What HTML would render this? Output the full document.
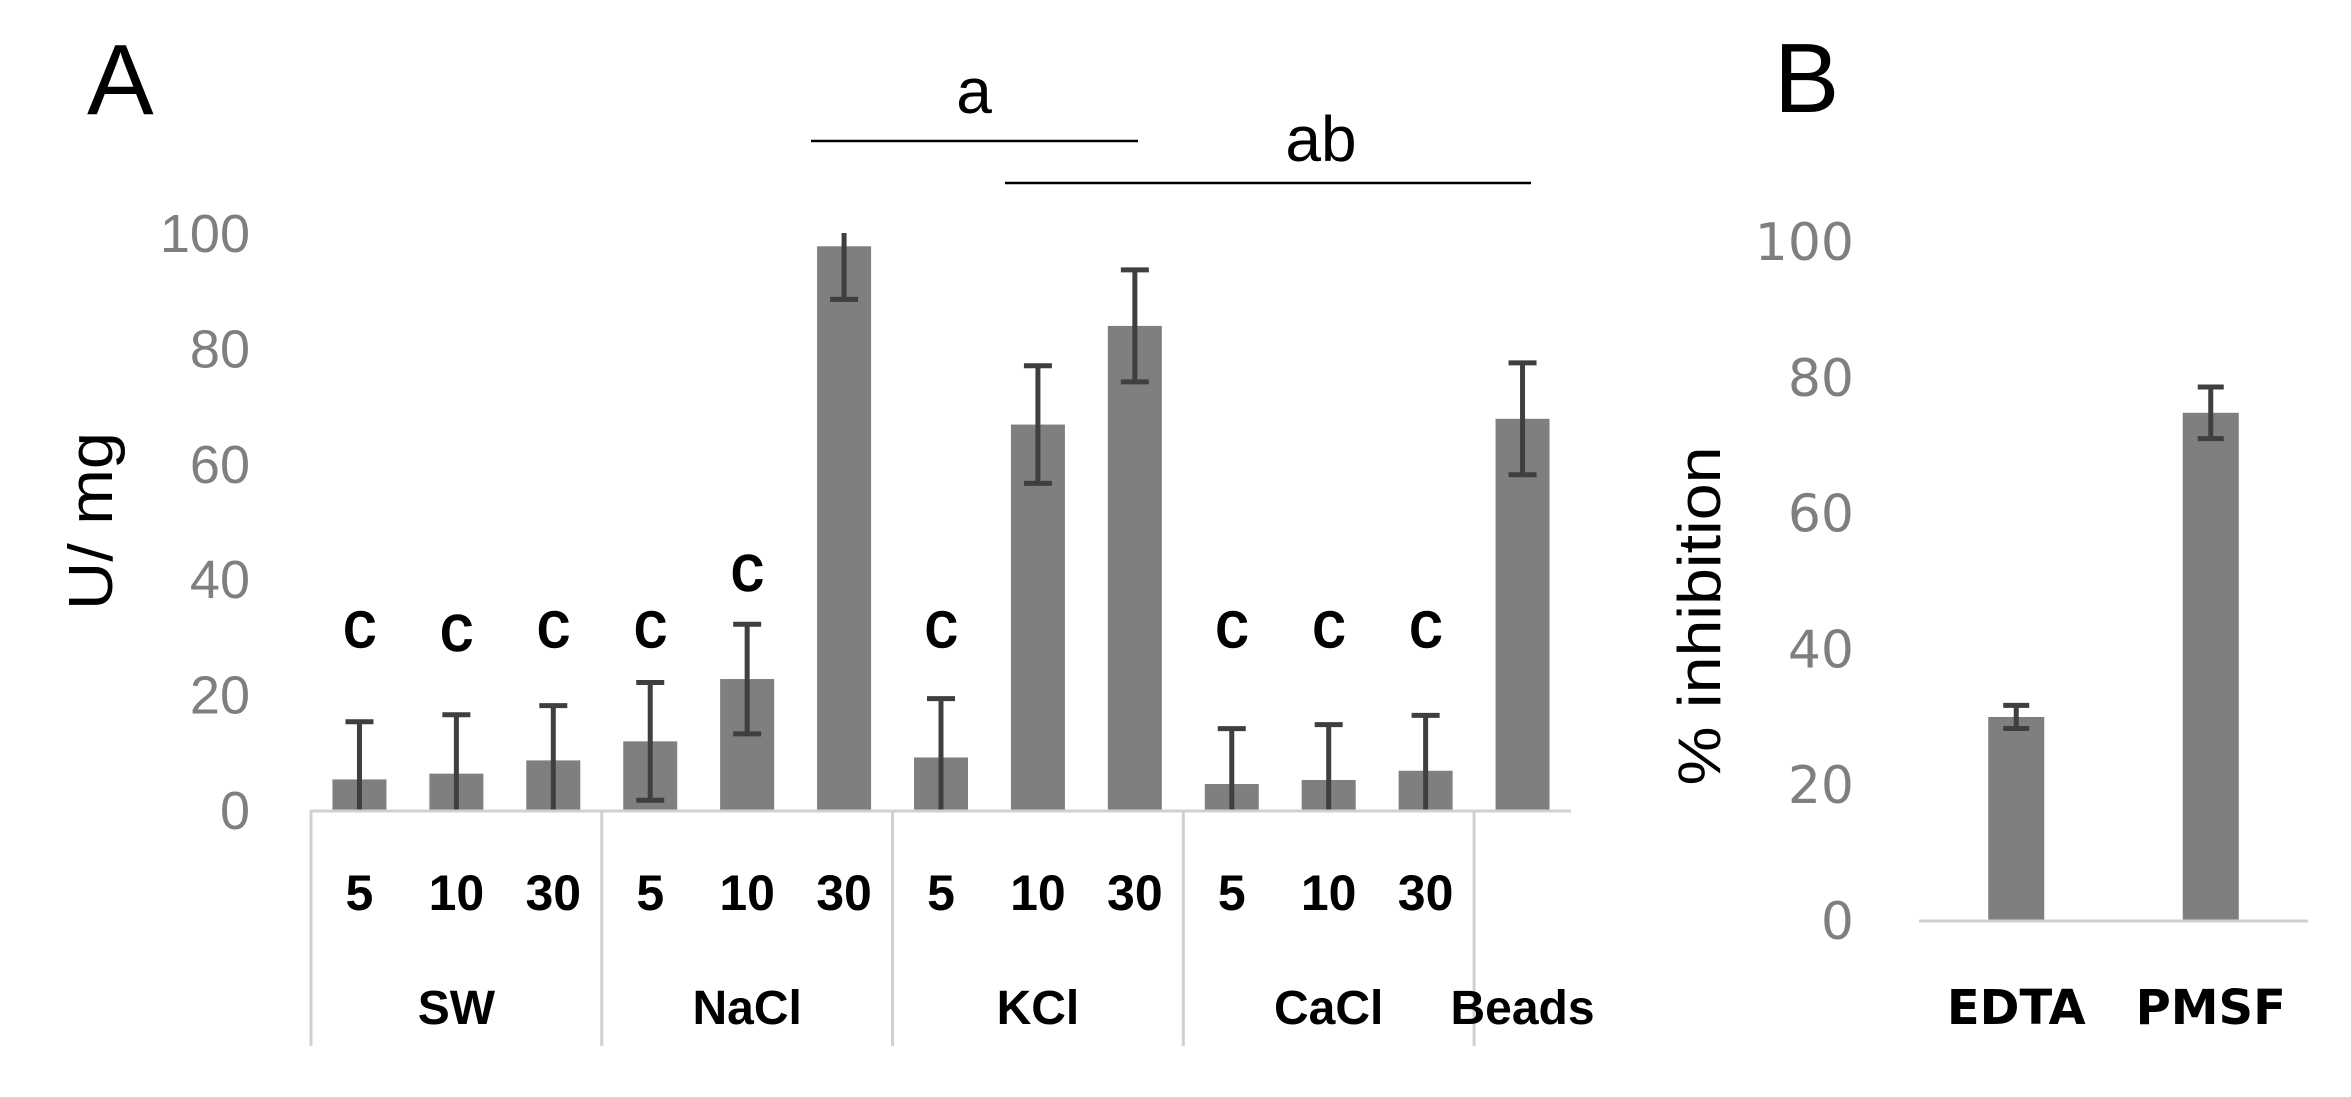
<!DOCTYPE html>
<html><head><meta charset="utf-8"><style>
html,body{margin:0;padding:0;background:#fff;}
svg{display:block;}
</style></head><body>
<svg width="2351" height="1097" viewBox="0 0 2351 1097" xmlns="http://www.w3.org/2000/svg">
<g id="panelA"></g>
<g id="panelB"></g>
</svg>
<script>
// Panel A data
const catsA = ["5","10","30","5","10","30","5","10","30","5","10","30",""];
const groupsA = ["SW","NaCl","KCl","CaCl","Beads"];
const groupSizesA = [3,3,3,3,1];
const valuesA = [5.3,6.3,8.6,11.9,22.7,97.7,9.1,66.8,83.9,4.5,5.2,6.8,67.8];
const errorsA = [10,10.2,9.5,10.2,9.5,9.2,10.2,10.2,9.7,9.6,9.6,9.6,9.7];
const sigA = ["c","c","c","c","c","","c","","","c","c","c",""];
const sigYA = [31.2,30.6,31.2,31.2,41,0,31.2,0,0,31.2,31.2,31.2,0];
const ticksA = [0,20,40,60,80,100];
// Panel B data
const catsB = ["EDTA","PMSF"];
const valuesB = [29.9,74.7];
const errorsB = [1.7,3.8];
const ticksB = [0,20,40,60,80,100];

const NS="http://www.w3.org/2000/svg";
function mk(parent,tag,attrs,text){const e=document.createElementNS(NS,tag);for(const k in attrs)e.setAttribute(k,attrs[k]);if(text!==undefined)e.textContent=text;parent.appendChild(e);return e;}

// ---------- Panel A ----------
const A=document.getElementById('panelA');
const ax0=311, ax1=1571, ay0=810, ayPer=5.77;
const slotA=(ax1-ax0)/catsA.length;
const yA=v=>ay0-v*ayPer;
const xA=i=>ax0+slotA*(i+0.5);

let t=mk(A,'text',{x:87,y:114,'font-family':'Liberation Sans, sans-serif','font-size':100,fill:'#000'},'A');



ticksA.forEach(v=>{
  const e=mk(A,'text',{x:250,y:yA(v)+19,'text-anchor':'end','font-family':'Liberation Sans, sans-serif','font-size':54,fill:'#7f7f7f'},String(v));
  
  
});
t=mk(A,'text',{x:0,y:0,transform:'translate(112,521) rotate(-90)','text-anchor':'middle','font-family':'Liberation Sans, sans-serif','font-size':62,fill:'#000',textLength:178,lengthAdjust:'spacingAndGlyphs'},'U/ mg');



valuesA.forEach((v,i)=>{
  const cx=xA(i);
  const r=mk(A,'rect',{x:cx-27,y:yA(v),width:54,height:ay0-yA(v),fill:'#7f7f7f'});
  
  
  const hi=Math.min(100,v+errorsA[i]), lo=Math.max(0,v-errorsA[i]);
  const g=mk(A,'g',{stroke:'#3f3f3f','stroke-width':5});
  
  
  mk(g,'line',{x1:cx,x2:cx,y1:yA(hi),y2:yA(lo)});
  if(hi<100) mk(g,'line',{x1:cx-14,x2:cx+14,y1:yA(hi),y2:yA(hi)});
  if(lo>0) mk(g,'line',{x1:cx-14,x2:cx+14,y1:yA(lo),y2:yA(lo)});
  if(sigA[i]){
    const s=mk(A,'text',{x:cx,y:yA(sigYA[i])+17,'text-anchor':'middle','font-family':'Liberation Sans, sans-serif','font-size':66,fill:'#000','stroke':'#000','stroke-width':1.5},sigA[i]);
    
    
  }
  const c=mk(A,'text',{x:cx,y:910,'text-anchor':'middle','font-family':'Liberation Sans, sans-serif','font-size':50,'font-weight':'bold',fill:'#000'},catsA[i]);
  
  
});

let ax=mk(A,'line',{x1:ax0,x2:ax1,y1:ay0+1,y2:ay0+1,stroke:'#d0d0d0','stroke-width':3});


let start=0;
groupsA.forEach((gname,gi)=>{
  const x=ax0+slotA*start;
  const d=mk(A,'line',{x1:x,x2:x,y1:ay0,y2:1046,stroke:'#d0d0d0','stroke-width':3});
  
  
  const cx=ax0+slotA*(start+groupSizesA[gi]/2);
  const l=mk(A,'text',{x:cx,y:1024,'text-anchor':'middle','font-family':'Liberation Sans, sans-serif','font-size':48,'font-weight':'bold',fill:'#000'},gname);
  
  
  start+=groupSizesA[gi];
});

// significance brackets
t=mk(A,'line',{x1:811,x2:1138,y1:141,y2:141,stroke:'#000','stroke-width':2.5});


t=mk(A,'text',{x:974,y:113,'text-anchor':'middle','font-family':'Liberation Sans, sans-serif','font-size':64,fill:'#000'},'a');


t=mk(A,'line',{x1:1005,x2:1531,y1:183,y2:183,stroke:'#000','stroke-width':2.5});


t=mk(A,'text',{x:1321,y:161,'text-anchor':'middle','font-family':'Liberation Sans, sans-serif','font-size':64,fill:'#000'},'ab');



// ---------- Panel B ----------
const B=document.getElementById('panelB');
const bx0=1919, bx1=2308, by0=920, byPer=6.79;
const slotB=(bx1-bx0)/catsB.length;
const yB=v=>by0-v*byPer;
const xB=i=>bx0+slotB*(i+0.5);

t=mk(B,'text',{x:1774,y:112,'font-family':'Liberation Sans, sans-serif','font-size':98,fill:'#000'},'B');


ticksB.forEach(v=>{
  const e=mk(B,'text',{x:1854,y:yB(v)+19,'text-anchor':'end','font-family':'DejaVu Sans, sans-serif','font-size':52,fill:'#7f7f7f'},String(v));
  
  
});
t=mk(B,'text',{x:0,y:0,transform:'translate(1720,616) rotate(-90)','text-anchor':'middle','font-family':'Liberation Sans, sans-serif','font-size':60,fill:'#000',textLength:339,lengthAdjust:'spacingAndGlyphs'},'% inhibition');


valuesB.forEach((v,i)=>{
  const cx=xB(i);
  const r=mk(B,'rect',{x:cx-28,y:yB(v),width:56,height:by0-yB(v),fill:'#7f7f7f'});
  
  
  const hi=v+errorsB[i], lo=v-errorsB[i];
  const g=mk(B,'g',{stroke:'#3f3f3f','stroke-width':5});
  
  
  mk(g,'line',{x1:cx,x2:cx,y1:yB(hi),y2:yB(lo)});
  mk(g,'line',{x1:cx-13,x2:cx+13,y1:yB(hi),y2:yB(hi)});
  mk(g,'line',{x1:cx-13,x2:cx+13,y1:yB(lo),y2:yB(lo)});
  const c=mk(B,'text',{x:cx,y:1024,'text-anchor':'middle','font-family':'DejaVu Sans, sans-serif','font-size':48,'font-weight':'bold',fill:'#000'},catsB[i]);
  
  
});
ax=mk(B,'line',{x1:bx0,x2:bx1,y1:by0+1,y2:by0+1,stroke:'#d0d0d0','stroke-width':3});


</script>
</body></html>
